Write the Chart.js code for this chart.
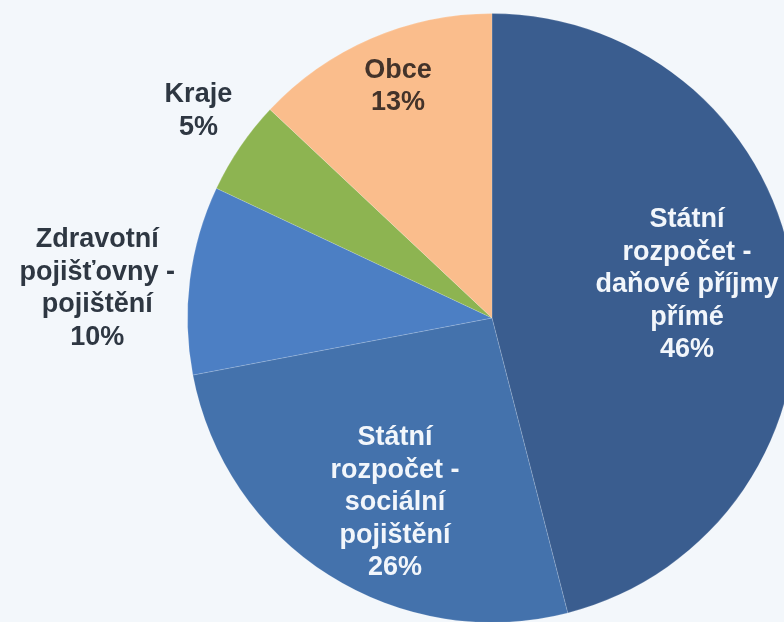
<!DOCTYPE html>
<html>
<head>
<meta charset="utf-8">
<script src="https://cdn.jsdelivr.net/npm/chart.js@4.4.1/dist/chart.umd.min.js"></script>
<style>
  html, body { margin: 0; padding: 0; width: 784px; height: 622px; overflow: hidden; background: #F3F7FB; }
  #wrap { position: absolute; left: 0; top: 0; width: 800px; height: 640px; }
</style>
</head>
<body>
<div id="wrap"><canvas id="c" width="800" height="640"></canvas></div>
<script>
// ---- data ----
const categories = [
  ["Státní", "rozpočet -", "daňové příjmy", "přímé"],
  ["Státní", "rozpočet -", "sociální", "pojištění"],
  ["Zdravotní", "pojišťovny -", "pojištění"],
  ["Kraje"],
  ["Obce"]
];
const values = [46, 26, 10, 5, 13];

// ---- styles ----
const sliceColors = ["#3A5D8F", "#4472AC", "#4C7FC4", "#8DB451", "#FABD8C"];
const labelColors = ["#F2F6FB", "#F2F6FB", "#2E3742", "#2E3742", "#43332A"];
const labelRadius = [0.65, 0.685, 1.30, 1.18, 0.82];
const labelAngleShift = [-2.5, -4.7, -2.9, 1.0, 1.3]; // degrees

const labelPlugin = {
  id: 'sliceLabels',
  afterDatasetsDraw(chart) {
    const ctx = chart.ctx;
    const meta = chart.getDatasetMeta(0);
    const lineH = 32.5;
    ctx.save();
    ctx.font = 'bold 27px "Liberation Sans", Arial, sans-serif';
    ctx.textAlign = 'center';
    ctx.textBaseline = 'middle';
    meta.data.forEach((arc, i) => {
      const p = arc.getProps(['x', 'y', 'startAngle', 'endAngle', 'outerRadius'], true);
      const mid = (p.startAngle + p.endAngle) / 2 + labelAngleShift[i] * Math.PI / 180;
      const r = p.outerRadius * labelRadius[i];
      const cx = p.x + Math.cos(mid) * r;
      const cy = p.y + Math.sin(mid) * r;
      const lines = categories[i].concat([values[i] + '%']);
      const top = cy - (lines.length - 1) * lineH / 2;
      ctx.fillStyle = labelColors[i];
      lines.forEach((t, k) => ctx.fillText(t, cx, top + k * lineH));
    });
    ctx.restore();
  }
};

new Chart(document.getElementById('c'), {
  type: 'pie',
  data: {
    labels: categories.map(c => c.join(' ')),
    datasets: [{
      data: values,
      backgroundColor: sliceColors,
      borderColor: 'rgba(255,255,255,0.15)',
      borderWidth: 1
    }]
  },
  options: {
    responsive: false,
    animation: false,
    layout: { padding: { left: 187, right: 3, top: 13, bottom: 17 } },
    plugins: {
      legend: { display: false },
      tooltip: { enabled: false }
    }
  },
  plugins: [labelPlugin]
});
</script>
</body>
</html>
